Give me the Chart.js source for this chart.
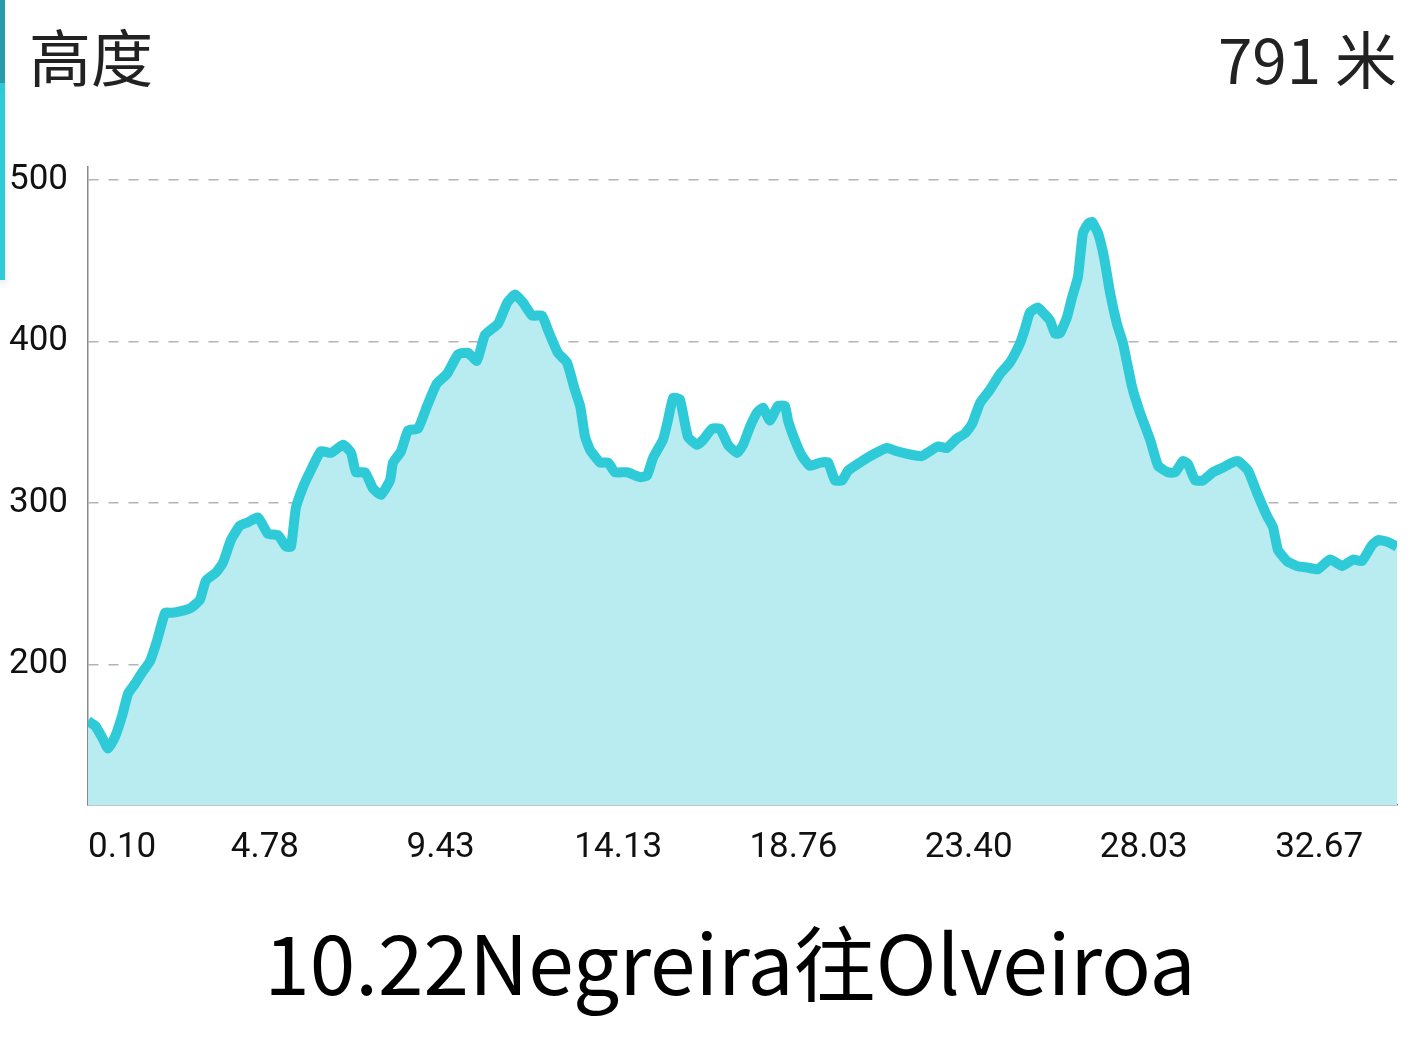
<!DOCTYPE html>
<html>
<head>
<meta charset="utf-8">
<script src="https://cdn.jsdelivr.net/npm/chart.js@4"></script>
<style>
  body { margin:0; background:#fff; width:1428px; height:1052px; overflow:hidden; position:relative; }
  .bar1 { position:absolute; left:0; top:0; width:5px; height:83px; background:#2a9ba8; }
  .bar2 { position:absolute; left:0; top:83px; width:5px; height:197px; background:#2ecad8; box-shadow:0 4px 6px rgba(0,0,0,0.12); }
  .head { position:absolute; font-family:"Noto Sans CJK SC","Noto Sans",sans-serif; font-size:62px; line-height:76px; color:#222; }
  #title { left:29px; top:17px; }
  #total { right:31px; top:19px; }
  #chartBox { position:absolute; left:0; top:0; }
  #footer { position:absolute; left:0; width:1460px; top:910px; text-align:center; font-family:"Noto Sans CJK SC","Noto Sans",sans-serif; font-size:82px; line-height:100px; color:#000; }
</style>
</head>
<body>
<div class="bar1"></div>
<div class="bar2"></div>
<div class="head" id="title">高度</div>
<div class="head" id="total">791 米</div>
<canvas id="chartBox" width="1419" height="900"></canvas>
<div id="footer">10.22Negreira往Olveiroa</div>
<script>
// 距離 (km) 與 高度 (m)
var distances = [0.10,0.29,0.47,0.63,0.81,1.00,1.16,1.34,1.53,1.74,1.93,2.14,2.32,2.56,2.82,3.06,3.22,3.49,3.67,3.88,
  4.12,4.33,4.60,4.86,5.13,5.34,5.47,5.60,5.79,5.97,6.26,6.53,6.85,7.06,7.19,7.43,7.64,7.85,8.09,8.17,
  8.38,8.57,8.83,9.07,9.33,9.60,9.89,10.15,10.39,10.60,10.95,11.19,11.40,11.61,11.85,12.11,12.27,12.53,12.77,12.98,
  13.12,13.25,13.38,13.65,13.86,14.04,14.36,14.70,14.89,15.05,15.31,15.44,15.58,15.76,15.97,16.21,16.37,16.61,16.82,17.03,
  17.27,17.43,17.61,17.80,17.96,18.14,18.35,18.54,18.62,18.80,18.99,19.20,19.47,19.68,19.86,20.05,20.21,20.52,20.87,21.24,
  21.50,21.85,22.16,22.37,22.59,22.82,23.09,23.30,23.49,23.70,23.96,24.23,24.49,24.76,24.89,25.02,25.23,25.36,25.55,25.68,
  25.81,26.00,26.13,26.29,26.42,26.56,26.66,26.82,26.98,27.14,27.32,27.48,27.72,27.93,28.20,28.41,28.67,28.86,29.07,29.20,
  29.39,29.60,29.86,30.13,30.37,30.52,30.79,31.03,31.29,31.45,31.58,31.82,32.08,32.35,32.64,32.96,33.28,33.57,33.80,34.07,
  34.23,34.47,34.73];
var elevations = [165,162,155,148,155,168,182,188,195,202,215,232,232,233,235,240,252,257,263,277,
  286,288,291,281,280,273,273,297,310,319,332,331,336,331,319,319,309,305,314,325,
  332,345,346,360,374,380,392,393,388,404,411,424,429,424,416,416,407,393,387,370,
  360,341,333,325,325,319,319,316,317,328,339,351,365,364,341,336,339,346,346,336,
  331,336,347,356,359,351,360,360,351,339,329,323,325,325,314,314,320,325,330,334,
  332,330,329,332,335,334,340,343,349,362,370,380,387,399,408,418,421,418,413,405,
  405,415,427,440,467,473,474,467,452,430,411,399,372,356,339,323,319,319,326,324,
  314,314,319,322,325,326,320,306,292,285,271,264,261,260,259,265,261,265,264,274,
  277,276,273];
var xTicks = [0.10, 4.78, 9.43, 14.13, 18.76, 23.40, 28.03, 32.67];
var yTicks = [200, 300, 400, 500];
var xMin = 0.10, xMax = 34.73;
var yMin = 113, yMax = 508;

var points = distances.map(function(d, i){ return {x: d, y: elevations[i]}; });
var tickFont = {family: 'Roboto', size: 35};

var ctx = document.getElementById('chartBox').getContext('2d');
var myChart = new Chart(ctx, {
    type: 'line',
    data: {
        datasets: [{
            data: points,
            borderColor: '#2ecad8',
            backgroundColor: '#b8ecf0',
            borderWidth: 10,
            fill: 'start',
            pointRadius: 0,
            tension: 0.15
        }]
    },
    options: {
        responsive: false,
        animation: false,
        layout: { padding: {top: 167, right: 3, left: 0, bottom: 0} },
        plugins: { legend: {display: false}, tooltip: {enabled: false} },
        scales: {
            x: {
                type: 'linear',
                min: xMin,
                max: xMax,
                afterBuildTicks: function(scale){
                    scale.ticks = xTicks.concat([xMax]).map(function(v){ return {value: v}; });
                },
                afterFit: function(scale){ scale.height = 95; },
                grid: { display: false, drawTicks: false },
                border: { display: true, color: '#8a8a8a', width: 1.5 },
                ticks: {
                    align: 'inner',
                    autoSkip: false,
                    maxRotation: 0,
                    padding: 22,
                    color: '#111',
                    font: tickFont,
                    callback: function(v){
                        return v === xMax ? '' : v.toFixed(2);
                    }
                }
            },
            y: {
                min: yMin,
                max: yMax,
                afterBuildTicks: function(scale){
                    scale.ticks = yTicks.map(function(v){ return {value: v}; });
                },
                afterFit: function(scale){ scale.width = 88; },
                grid: { color: '#b4b4b4', lineWidth: 1.5, drawTicks: false },
                border: { display: true, color: '#8a8a8a', width: 1.5, dash: [10, 10] },
                ticks: { padding: 20, color: '#111', font: tickFont }
            }
        }
    }
});
</script>
</body>
</html>
